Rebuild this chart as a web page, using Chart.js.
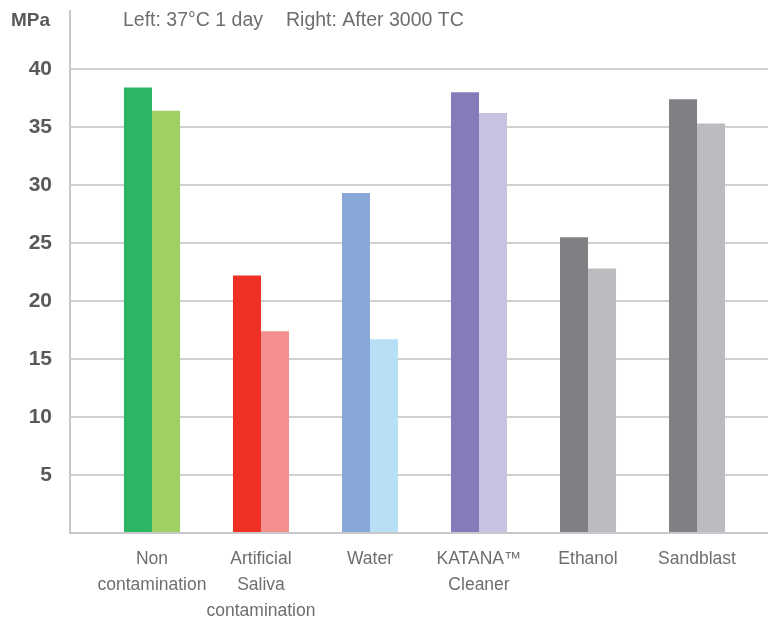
<!DOCTYPE html>
<html>
<head>
<meta charset="utf-8">
<script src="https://cdn.jsdelivr.net/npm/chart.js@4"></script>
<style>
  html, body { margin: 0; padding: 0; background: #fff; }
  #wrap { width: 768px; height: 626px; position: relative; }
</style>
</head>
<body>
<div id="wrap"><canvas id="bond-chart"></canvas></div>
<script>
const categories = [['Non', 'contamination'], ['Artificial', 'Saliva', 'contamination'], ['Water'], ['KATANA\u2122', 'Cleaner'], ['Ethanol'], ['Sandblast']];
const day1Values = [38.4, 22.2, 29.3, 38.0, 25.5, 37.4];
const tc3000Values = [36.4, 17.4, 16.7, 36.2, 22.8, 35.3];
const day1Colors = ['#2cb563', '#ee3124', '#88a8d8', '#847cb9', '#808084', '#808084'];
const tc3000Colors = ['#a0cf63', '#f4908d', '#b7dff5', '#c7c3e1', '#bbbcc0', '#bbbcc0'];
const yTicks = [5, 10, 15, 20, 25, 30, 35, 40];

const headerText = {
    id: 'headerText',
    afterDraw(chart) {
        const c = chart.ctx;
        c.save();
        c.textBaseline = 'middle';
        c.textAlign = 'left';
        c.fillStyle = '#58595b';
        c.font = 'bold 19px "Liberation Sans", Arial, sans-serif';
        c.fillText('MPa', 11, 21);
        c.fillStyle = '#6d6e71';
        c.font = '19.5px "Liberation Sans", Arial, sans-serif';
        c.fillText('Left: 37\u00b0C 1 day', 123, 21);
        c.fillText('Right: After 3000 TC', 286, 21);
        c.restore();
    }
};

const ctx = document.getElementById('bond-chart').getContext('2d');
const bondChart = new Chart(ctx, {
    type: 'bar',
    data: {
        datasets: [{
            label: 'Left: 37\u00b0C 1 day',
            data: day1Values.map((v, i) => ({ x: i, y: v })),
            backgroundColor: day1Colors
        }, {
            label: 'Right: After 3000 TC',
            data: tc3000Values.map((v, i) => ({ x: i, y: v })),
            backgroundColor: tc3000Colors
        }]
    },
    options: {
        responsive: true,
        maintainAspectRatio: false,
        animation: false,
        layout: { padding: { top: 11, right: 0, left: 0, bottom: 0 } },
        datasets: { bar: { categoryPercentage: 0.514, barPercentage: 1.0 } },
        plugins: {
            legend: { display: false },
            tooltip: { enabled: false }
        },
        scales: {
            x: {
                type: 'linear',
                offset: false,
                min: -0.752,
                max: 5.651,
                afterFit(scale) {
                    scale.height = 93;
                    scale.paddingLeft = 0;
                    scale.paddingRight = 0;
                },
                grid: { drawOnChartArea: false, drawTicks: false, offset: false },
                border: { display: true, color: '#c8c8cc', width: 2 },
                ticks: {
                    stepSize: 1,
                    includeBounds: false,
                    autoSkip: false,
                    maxRotation: 0,
                    padding: 13,
                    color: '#6d6e71',
                    font: { family: '"Liberation Sans", Arial, sans-serif', size: 17.5, lineHeight: 1.49 },
                    callback: (v) => (Number.isInteger(v) && categories[v]) ? categories[v] : ''
                }
            },
            y: {
                min: 0,
                max: 45,
                afterFit(scale) {
                    scale.width = 70;
                    scale.paddingTop = 0;
                    scale.paddingBottom = 0;
                },
                grid: {
                    drawTicks: false,
                    lineWidth: 2,
                    color: (c) => yTicks.includes(c.tick.value) ? '#d0d0d0' : 'rgba(0,0,0,0)'
                },
                border: { display: true, color: '#c8c8cc', width: 2 },
                ticks: {
                    stepSize: 5,
                    padding: 18,
                    color: '#58595b',
                    font: { family: '"Liberation Sans", Arial, sans-serif', size: 21, weight: 'bold' },
                    callback: (v) => yTicks.includes(v) ? String(v) : ''
                }
            }
        }
    },
    plugins: [headerText]
});
</script>
</body>
</html>
